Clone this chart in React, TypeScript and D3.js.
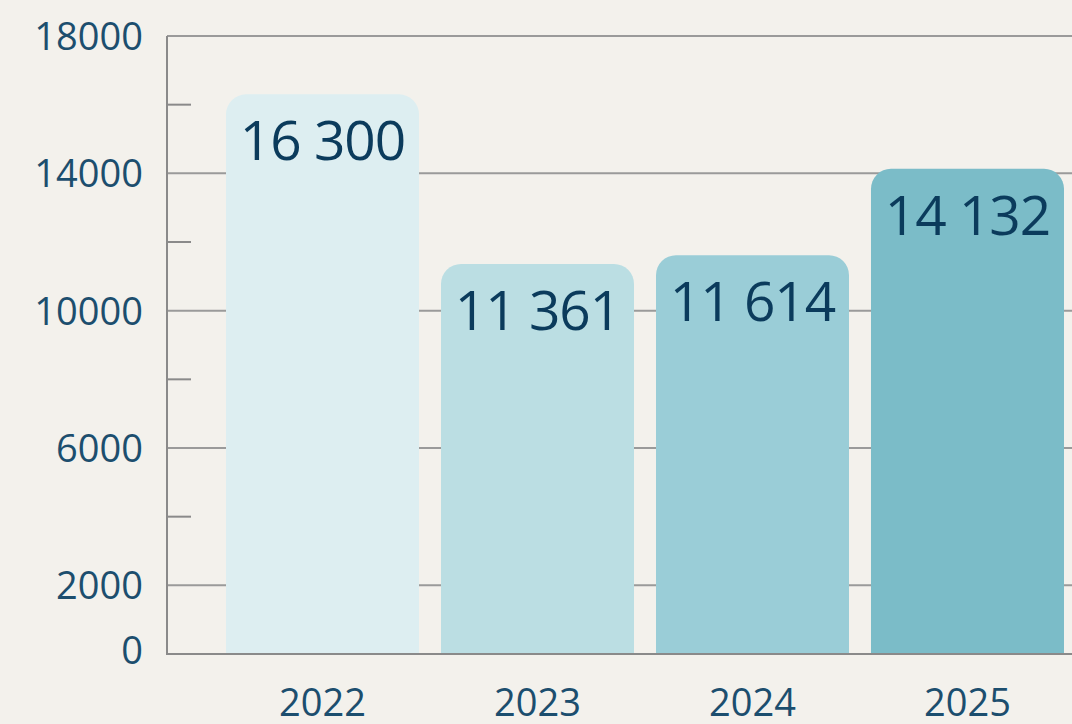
import React, { useEffect, useRef } from "react";
import * as d3 from "d3";

// 年ごとの値
const years = ["2022", "2023", "2024", "2025"];
const values = [16300, 11361, 11614, 14132];
const valueLabels = ["16 300", "11 361", "11 614", "14 132"];
const barColors = ["#ddeef1", "#bbdee3", "#9acdd7", "#7bbcc8"];
const majorTicks = [18000, 14000, 10000, 6000, 2000];
const minorTicks = [16000, 12000, 8000, 4000];
const tickLabels = [18000, 14000, 10000, 6000, 2000, 0];

const width = 1072;
const height = 724;
const FONT = "'Open Sans', 'Noto Sans', sans-serif";

export default function App() {
  const svgRef = useRef<SVGSVGElement>(null);

  useEffect(() => {
    if (!svgRef.current) return;
    d3.select(svgRef.current).selectAll("*").remove();

    const svg = d3.select(svgRef.current);

    const axisX = 167;

    const y = d3.scaleLinear().domain([0, 18000]).range([654, 36]);
    const x = d3
      .scaleBand<string>()
      .domain(years)
      .range([215, 1075])
      .paddingInner(0.1023)
      .paddingOuter(0.0512);

    // 背景
    svg
      .append("rect")
      .attr("width", width)
      .attr("height", height)
      .attr("fill", "#f3f1ec");

    // グリッド線
    svg
      .append("g")
      .selectAll("line")
      .data(majorTicks)
      .join("line")
      .attr("x1", axisX)
      .attr("x2", width)
      .attr("y1", (d) => y(d))
      .attr("y2", (d) => y(d))
      .attr("stroke", "#9a9a9a")
      .attr("stroke-width", 2);

    // 補助目盛り
    svg
      .append("g")
      .selectAll("line")
      .data(minorTicks)
      .join("line")
      .attr("x1", axisX)
      .attr("x2", axisX + 24)
      .attr("y1", (d) => y(d))
      .attr("y2", (d) => y(d))
      .attr("stroke", "#8a8a8a")
      .attr("stroke-width", 2);

    // 棒（上の角だけ丸める）
    const r = 20;
    const barPath = (x0: number, w: number, top: number, bottom: number) => {
      const p = d3.path();
      p.moveTo(x0, bottom);
      p.lineTo(x0, top + r);
      p.arcTo(x0, top, x0 + r, top, r);
      p.lineTo(x0 + w - r, top);
      p.arcTo(x0 + w, top, x0 + w, top + r, r);
      p.lineTo(x0 + w, bottom);
      p.closePath();
      return p.toString();
    };

    svg
      .append("g")
      .selectAll("path")
      .data(values)
      .join("path")
      .attr("d", (d, i) => barPath(x(years[i])!, x.bandwidth(), y(d), y(0)))
      .attr("fill", (d, i) => barColors[i]);

    // 値ラベル
    svg
      .append("g")
      .selectAll("text")
      .data(values)
      .join("text")
      .attr("x", (d, i) => x(years[i])! + x.bandwidth() / 2)
      .attr("y", (d) => y(d) + 66)
      .attr("text-anchor", "middle")
      .attr("font-family", FONT)
      .attr("font-size", 55)
      .attr("letter-spacing", -1)
      .attr("fill", "#0b3b5c")
      .text((d, i) => valueLabels[i]);

    // 軸線
    svg
      .append("line")
      .attr("x1", axisX)
      .attr("x2", axisX)
      .attr("y1", y(18000))
      .attr("y2", y(0))
      .attr("stroke", "#8a8a8a")
      .attr("stroke-width", 2);
    svg
      .append("line")
      .attr("x1", axisX - 1)
      .attr("x2", width)
      .attr("y1", y(0))
      .attr("y2", y(0))
      .attr("stroke", "#8a8a8a")
      .attr("stroke-width", 2);

    // Y軸ラベル
    svg
      .append("g")
      .selectAll("text")
      .data(tickLabels)
      .join("text")
      .attr("x", 143)
      .attr("y", (d) => y(d) + (d === 0 ? 10 : 14))
      .attr("text-anchor", "end")
      .attr("font-family", FONT)
      .attr("font-size", 38)
      .attr("fill", "#1c4e6e")
      .text((d) => String(d));

    // X軸ラベル
    svg
      .append("g")
      .selectAll("text")
      .data(years)
      .join("text")
      .attr("x", (d) => x(d)! + x.bandwidth() / 2)
      .attr("y", 716)
      .attr("text-anchor", "middle")
      .attr("font-family", FONT)
      .attr("font-size", 38)
      .attr("fill", "#1c4e6e")
      .text((d) => d);
  }, []);

  return (
    <div style={{ position: "absolute", left: 0, top: 0 }}>
      <svg ref={svgRef} width={width} height={height} style={{ display: "block" }} />
    </div>
  );
}
